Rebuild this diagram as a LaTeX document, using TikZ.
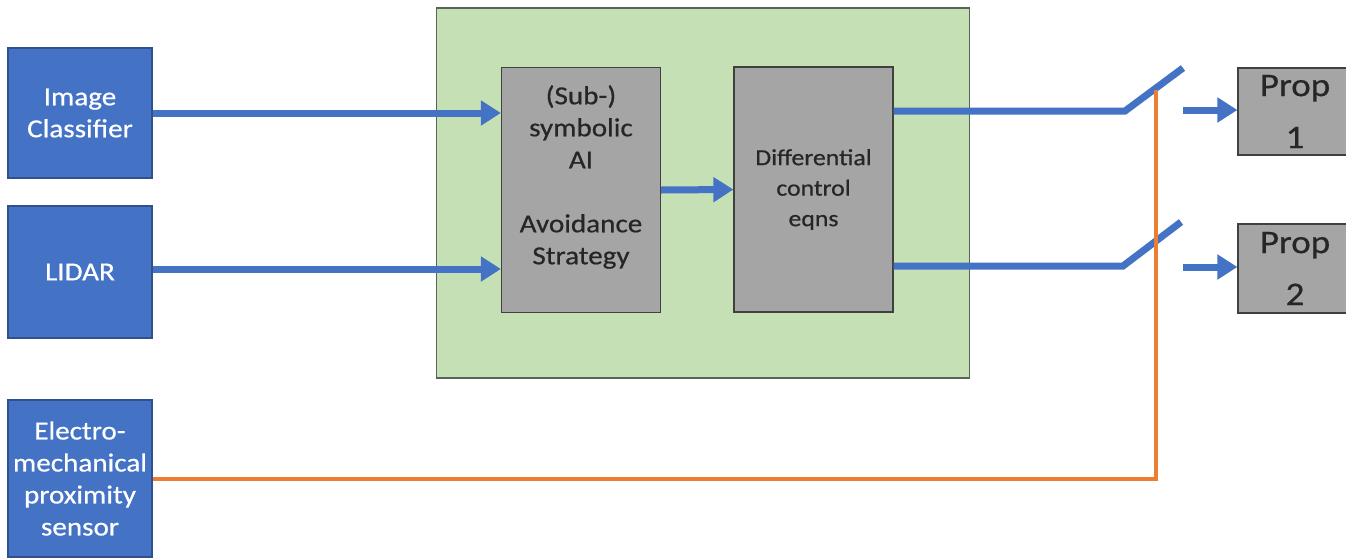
\documentclass[tikz,border=0pt]{standalone}
\usepackage{fontspec}
\setmainfont[FakeStretch=1.12, FakeBold=0.6]{Carlito}
\usetikzlibrary{arrows.meta}

\definecolor{sensorblue}{HTML}{4472C4}
\definecolor{sensoredge}{HTML}{2F528F}
\definecolor{panelgreen}{HTML}{C5E0B4}
\definecolor{paneledge}{HTML}{56645C}
\definecolor{blockgray}{HTML}{A5A5A5}
\definecolor{blockedge}{HTML}{404040}
\definecolor{wireorange}{HTML}{ED7D31}
\definecolor{inkdark}{HTML}{262626}

\tikzset{
  sensor/.style={draw=sensoredge, line width=1.2pt, fill=sensorblue, text=white,
    minimum width=144pt, align=center, inner sep=0pt,
    font=\fontsize{26}{32}\selectfont},
  panel/.style={draw=paneledge, line width=1.5pt, fill=panelgreen, inner sep=0pt},
  block/.style={draw=blockedge, line width=1.2pt, fill=blockgray, text=inkdark,
    minimum width=159pt, minimum height=245pt, align=center, inner sep=0pt},
  propbox/.style={draw=blockedge, line width=1.2pt, fill=blockgray, text=inkdark,
    minimum width=114pt, align=center, inner sep=0pt,
    font=\fontsize{33}{52}\selectfont},
  signal/.style={draw=sensorblue, line width=7pt},
  feed/.style={signal, -{Triangle[length=20pt,width=24pt]}},
  trigger/.style={draw=wireorange, line width=4pt},
}

\begin{document}
\begin{tikzpicture}[x=1pt, y=-1pt]
  \useasboundingbox (0,0) rectangle (1346,558);
  \fill[white] (0,0) rectangle (1346,558);

  % sensors on the left
  \node[sensor, minimum height=130pt] (ic) at (80,113) {Image\\Classifier};
  \node[sensor, minimum height=132pt] (lidar) at (80,272) {LIDAR};
  \node[sensor, minimum height=157pt] (prox) at (80,478.5)
    {Electro-\\mechanical\\proximity\\sensor};

  % controller panel with its two stages
  \node[panel, minimum width=533pt, minimum height=370pt] (panel) at (703,193) {};
  \node[block] (ai) at (581,190) {};
  \node[align=center, text=inkdark, font=\fontsize{26}{32}\selectfont] (ailabel) at (581,177)
    {(Sub-)\\symbolic\\AI\\[32pt]Avoidance\\Strategy};
  \node[block, font=\fontsize{23}{30.5}\selectfont] (diff) at (813.5,189.5)
    {Differential\\control\\eqns};

  % propellers on the right
  \node[propbox, minimum height=87pt] (prop1) at (1295,111.5) {Prop\\1};
  \node[propbox, minimum height=89pt] (prop2) at (1295,268.5) {Prop\\2};

  % switch contacts
  \coordinate (s1a) at (1125,111);
  \coordinate (s1b) at (1183,68);
  \coordinate (s2a) at (1123,266);
  \coordinate (s2b) at (1181,222);
  \coordinate (o1) at (1183,110);
  \coordinate (o2) at (1183,267);
  \coordinate (tap) at (1156,90);

  % inputs into the controller
  \draw[feed] (ic.east) -- (ic.east -| ai.west);
  \draw[feed] ([yshift=3pt]lidar.east) -- ([yshift=3pt]lidar.east -| ai.west);
  \draw[feed] (ai.east) -- (diff.west);

  % outputs through the switches
  \draw[signal] (s1a -| diff.east) -- (s1a) -- (s1b);
  \draw[signal] (s2a -| diff.east) -- (s2a) -- (s2b);
  \draw[feed] (o1) -- (o1 -| prop1.west);
  \draw[feed] (o2) -- (o2 -| prop2.west);

  % proximity sensor actuating the switches
  \draw[trigger] (prox.east) -- (prox.east -| tap) -- (tap);
\end{tikzpicture}
\end{document}
